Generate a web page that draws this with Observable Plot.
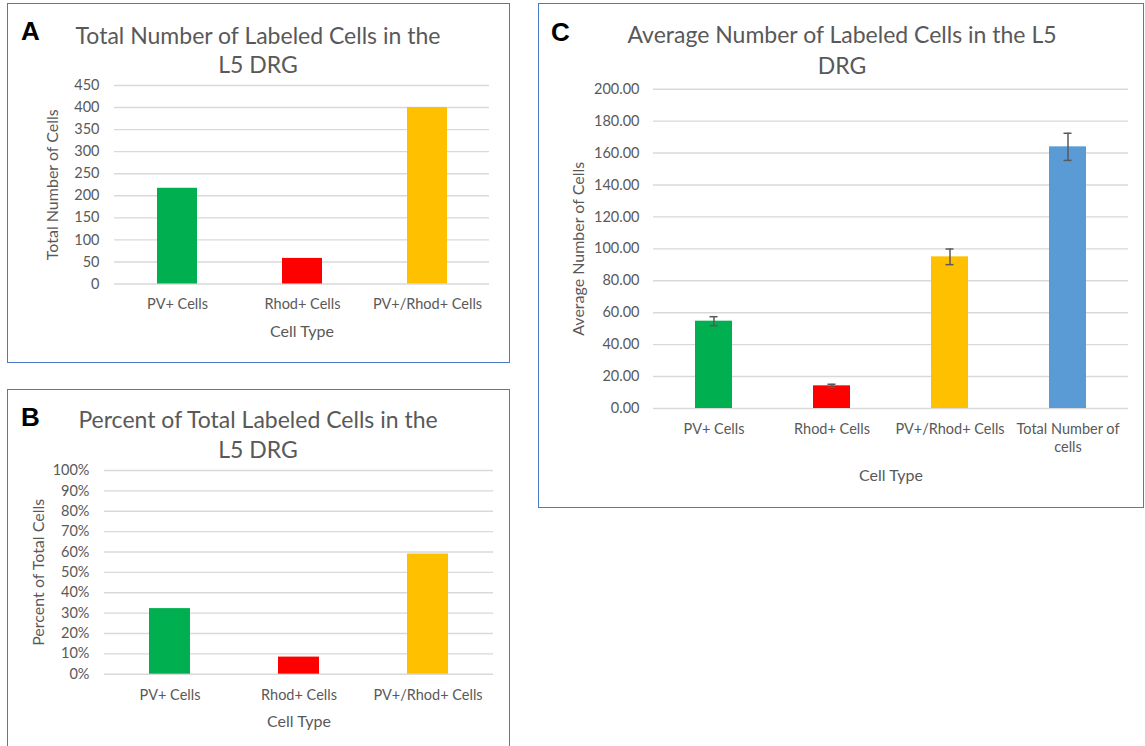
<!DOCTYPE html>
<html><head><meta charset="utf-8">
<script src="https://cdn.jsdelivr.net/npm/d3@7"></script>
<script src="https://cdn.jsdelivr.net/npm/@observablehq/plot@0.6"></script>
<style>
html,body{margin:0;padding:0;background:#fff;overflow:hidden;}
#page{position:relative;width:1145px;height:746px;overflow:hidden;font-family:Lato,"Open Sans",sans-serif;background:#fff;}
.box{position:absolute;border:1.5px solid #4A7BC8;box-sizing:border-box;}
.plot{position:absolute;}
.t{position:absolute;transform:translate(-50%,-50%);white-space:nowrap;color:#595959;font-size:23px;line-height:1;}
.lab{position:absolute;font-family:"Liberation Sans",Arial,sans-serif;font-weight:bold;font-size:26px;color:#000;line-height:1;}
</style></head><body><div id="page"></div><script>
// ---- data ----
const cellTypes = ["PV+ Cells", "Rhod+ Cells", "PV+/Rhod+ Cells"];
const totalCounts = [217, 58, 400];
const percentTotal = [0.322, 0.084, 0.590];
const avgTypes = ["PV+ Cells", "Rhod+ Cells", "PV+/Rhod+ Cells", "Total Number of cells"];
const avgCounts = [54.7, 14.2, 95.0, 163.9];
const avgErrors = [2.8, 1.0, 4.9, 8.5];
const barColors = ["#00B050", "#FF0000", "#FFC000", "#5B9BD5"];
const ticksA = [0, 50, 100, 150, 200, 250, 300, 350, 400, 450];
const ticksB = [0, 0.1, 0.2, 0.3, 0.4, 0.5, 0.6, 0.7, 0.8, 0.9, 1.0];
const ticksC = [0, 20, 40, 60, 80, 100, 120, 140, 160, 180, 200];
const titleA = ["Total Number of Labeled Cells in the", "L5 DRG"];
const titleB = ["Percent of Total Labeled Cells in the", "L5 DRG"];
const titleC = ["Average Number of Labeled Cells in the L5", "DRG"];
const xLabel = "Cell Type";
const yLabelA = "Total Number of Cells";
const yLabelB = "Percent of Total Cells";
const yLabelC = "Average Number of Cells";

const dataA = cellTypes.map((type, i) => ({type, value: totalCounts[i]}));
const dataB = cellTypes.map((type, i) => ({type, value: percentTotal[i]}));
const dataC = avgTypes.map((type, i) => ({type, value: avgCounts[i], err: avgErrors[i]}));

const page = document.getElementById("page");
const GRID = "#D9D9D9", TXT = "#595959";
const wrap = d => d.length > 16 ? d.slice(0, d.lastIndexOf(" ")) + "\n" + d.slice(d.lastIndexOf(" ") + 1) : d;

function addBox(l, t, w, h) {
  const d = document.createElement("div");
  d.className = "box";
  Object.assign(d.style, {left: l + "px", top: t + "px", width: w + "px", height: h + "px"});
  page.appendChild(d);
}
function addText(cls, txt, x, y, extra = {}) {
  const d = document.createElement("div");
  d.className = cls;
  d.textContent = txt;
  Object.assign(d.style, {left: x + "px", top: y + "px"}, extra);
  page.appendChild(d);
}
function addPlot(svg, l, t) {
  svg.classList.add("plot");
  svg.style.left = l + "px";
  svg.style.top = t + "px";
  page.appendChild(svg);
}

function barChart({data, domain, yDomain, ticks, fmt, width, height, margins, yLab, yLabOff, xLabOff, tickPadX, errors}) {
  return Plot.plot({
    width, height,
    marginLeft: margins[0], marginRight: margins[1], marginTop: margins[2], marginBottom: margins[3],
    style: {fontFamily: "Lato, 'Open Sans', sans-serif", fontSize: "14.5px", color: TXT, background: "transparent", overflow: "visible"},
    x: {domain, paddingInner: domain.length === 4 ? 0.69 : 0.68, paddingOuter: domain.length === 4 ? 0.345 : 0.34, label: null},
    y: {domain: yDomain, label: null},
    color: {domain: avgTypes, range: barColors},
    marks: [
      Plot.gridY(ticks, {stroke: GRID, strokeOpacity: 1, strokeWidth: 1.4}),
      Plot.barY(data, {x: "type", y: "value", fill: "type"}),
      errors ? Plot.ruleX(data, {x: "type", y1: d => d.value - d.err, y2: d => d.value + d.err, stroke: TXT, strokeWidth: 1.5}) : null,
      errors ? Plot.tickY(data, {x: "type", y: d => d.value + d.err, stroke: TXT, strokeWidth: 1.5, insetLeft: 14.5, insetRight: 14.5}) : null,
      errors ? Plot.tickY(data, {x: "type", y: d => d.value - d.err, stroke: TXT, strokeWidth: 1.5, insetLeft: 14.5, insetRight: 14.5}) : null,
      Plot.axisY(ticks, {tickSize: 0, tickPadding: margins[4], tickFormat: fmt, label: null, fill: TXT}),
      Plot.axisY([], {tickSize: 0, label: yLab, labelAnchor: "center", labelOffset: yLabOff, labelArrow: "none", fontSize: 16, fill: TXT}),
      Plot.axisX({tickSize: 0, tickPadding: tickPadX, tickFormat: wrap, label: null, fill: TXT, lineHeight: 1.25}),
      Plot.axisX([], {tickSize: 0, label: xLabel, labelAnchor: "center", labelOffset: xLabOff, labelArrow: "none", fontSize: 16, fill: TXT})
    ]
  });
}

// ---- Panel A ----
addBox(7, 3, 503, 360);
addPlot(barChart({
  data: dataA, domain: cellTypes, yDomain: [0, 450], ticks: ticksA, fmt: d3.format("d"),
  width: 500, height: 358, margins: [106, 19, 81, 78.5, 15], yLab: yLabelA, yLabOff: 68, xLabOff: 53, tickPadX: 12
}), 8, 4);
addText("t", titleA[0], 258, 35);
addText("t", titleA[1], 258, 64);
addText("lab", "A", 21, 18);

// ---- Panel B ----
addBox(7, 389, 503, 380);
addPlot(barChart({
  data: dataB, domain: cellTypes, yDomain: [0, 1], ticks: ticksB, fmt: d3.format(".0%"),
  width: 501, height: 357, margins: [96, 16, 81, 72.3, 15], yLab: yLabelB, yLabOff: 72, xLabOff: 53, tickPadX: 13
}), 8, 389);
addText("t", titleB[0], 258, 419);
addText("t", titleB[1], 258, 449);
addText("lab", "B", 21, 404);

// ---- Panel C ----
addBox(538, 3, 606, 505);
addPlot(barChart({
  data: dataC, domain: avgTypes, yDomain: [0, 200], ticks: ticksC, fmt: d3.format(".2f"),
  width: 604, height: 503, margins: [114, 15, 84.7, 99, 14], yLab: yLabelC, yLabOff: 81, xLabOff: 72, tickPadX: 13, errors: true
}), 539, 4);
addText("t", titleC[0], 842, 34);
addText("t", titleC[1], 842, 65);
addText("lab", "C", 551, 19);
</script></body></html>
